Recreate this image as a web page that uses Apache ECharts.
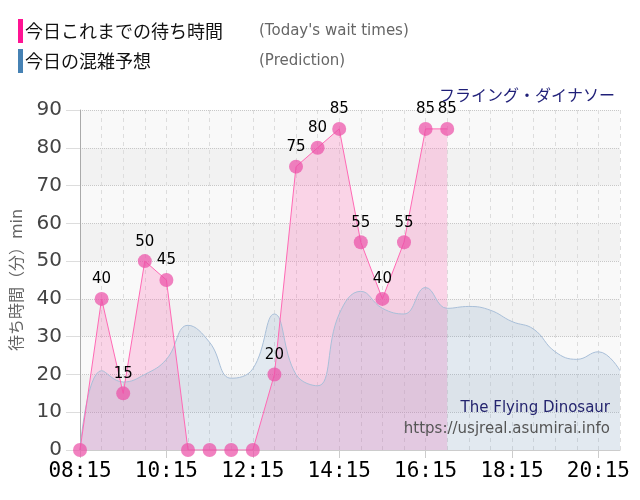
<!DOCTYPE html>
<html>
<head>
<meta charset="utf-8">
<script src="https://cdn.jsdelivr.net/npm/echarts@6/dist/echarts.min.js"></script>
<style>
html,body{margin:0;padding:0;background:#fff;}
#chart{width:640px;height:500px;}
</style>
</head>
<body>
<div id="chart"></div>
<script>
var times = ['08:15','08:45','09:15','09:45','10:15','10:45','11:15','11:45','12:15','12:45','13:15','13:45','14:15','14:45','15:15','15:45','16:15','16:45','17:15','17:45','18:15','18:45','19:15','19:45','20:15','20:45'];
var todayWait = [0,40,15,50,45,0,0,0,0,20,75,80,85,55,40,55,85,85];
var prediction = [0,21,18,20,24,33,28.5,19,21.5,36,20,17,36,42,37.5,36,43,37.5,38,37,34,32,26,24,26,21];
var yTicks = [0,10,20,30,40,50,60,70,80,90];
var legendNames = ['今日これまでの待ち時間','今日の混雑予想'];
var legendEn = {'今日これまでの待ち時間':"(Today's wait times)",'今日の混雑予想':'(Prediction)'};

var FONT = "'DejaVu Sans', 'Noto Sans CJK JP', sans-serif";
var chart = echarts.init(document.getElementById('chart'));
var option = {
  backgroundColor: '#fff',
  animation: false,
  textStyle: {fontFamily: FONT},
  title: {
    text: 'フライング・ダイナソー',
    right: 20, top: 82,
    textStyle: {fontSize: 16, fontWeight: 'normal', color: '#1f1f78', fontFamily: "'Noto Sans CJK JP', sans-serif"}
  },
  legend: {
    orient: 'vertical', left: 13, top: 14,
    itemWidth: 5, itemHeight: 24, itemGap: 6,
    icon: 'rect',
    selectedMode: false,
    data: [
      {name: legendNames[0], itemStyle: {color: '#ff1493'}},
      {name: legendNames[1], itemStyle: {color: '#4682b4'}}
    ],
    formatter: function (n) { return '{jp|' + n + '}{en|' + legendEn[n] + '}'; },
    textStyle: {
      padding: [0,0,0,-3],
      rich: {
        jp: {fontSize: 18, color: '#111', width: 234, fontFamily: "'Noto Sans CJK JP', sans-serif"},
        en: {fontSize: 15, color: '#666', fontFamily: FONT}
      }
    }
  },
  grid: {left: 80, right: 20, top: 110, bottom: 50},
  xAxis: {
    type: 'category', data: times, boundaryGap: false,
    axisLine: {lineStyle: {color: '#ccc'}},
    axisTick: {show: true, interval: 3, length: 8, lineStyle: {color: '#ccc'}},
    axisLabel: {interval: 3, fontSize: 21, color: '#000', fontFamily: 'DejaVu Sans Mono', margin: 11},
    splitLine: {show: true, interval: 0, lineStyle: {type: [4,4], color: '#ddd'}}
  },
  yAxis: {
    type: 'value', min: yTicks[0], max: yTicks[yTicks.length-1], interval: 10,
    name: '待ち時間（分）min', nameLocation: 'middle', nameRotate: 90, nameGap: 54,
    nameTextStyle: {fontSize: 16, color: '#666'},
    axisLine: {show: true, lineStyle: {color: '#aaa'}},
    axisTick: {show: true, length: 14, lineStyle: {color: '#ddd'}},
    axisLabel: {fontSize: 20, color: '#444', margin: 18},
    splitLine: {lineStyle: {type: 'dotted', color: '#c8c8c8'}},
    splitArea: {show: true, areaStyle: {color: ['#f9f9f9', '#f2f2f2']}}
  },
  graphic: [
    {type: 'text', right: 30, top: 401, style: {text: 'The Flying Dinosaur', fontSize: 15, fill: '#24246e', fontFamily: FONT, textAlign: 'right'}, z: 100},
    {type: 'text', right: 30, top: 422, style: {text: 'https://usjreal.asumirai.info', fontSize: 15, fill: '#555', fontFamily: FONT, textAlign: 'right'}, z: 100}
  ],
  series: [
    {
      name: legendNames[0], type: 'line', data: todayWait, z: 1,
      showSymbol: false, symbol: 'none',
      lineStyle: {width: 0, color: '#ff69b4'},
      itemStyle: {color: '#ff1493'},
      areaStyle: {color: 'rgba(255,105,180,0.36)', origin: 'start'}
    },
    {
      name: legendNames[1], type: 'line', data: prediction, z: 2,
      smooth: 0.45, showSymbol: false, symbol: 'none',
      itemStyle: {color: '#4682b4'},
      lineStyle: {width: 1, color: '#a9bfd8'},
      areaStyle: {color: 'rgba(70,130,180,0.18)', origin: 'start'}
    },
    {
      name: legendNames[0], type: 'line', data: todayWait, z: 3,
      symbol: 'circle', symbolSize: 14, showAllSymbol: true,
      lineStyle: {width: 1, color: '#ff69b4'},
      itemStyle: {color: 'rgba(236,80,168,0.72)'},
      label: {
        show: true, position: 'top', distance: 5, fontSize: 15, color: '#000',
        formatter: function (p) { return p.value > 0 ? String(p.value) : ''; }
      }
    }
  ]
};
chart.setOption(option);
</script>
</body>
</html>
